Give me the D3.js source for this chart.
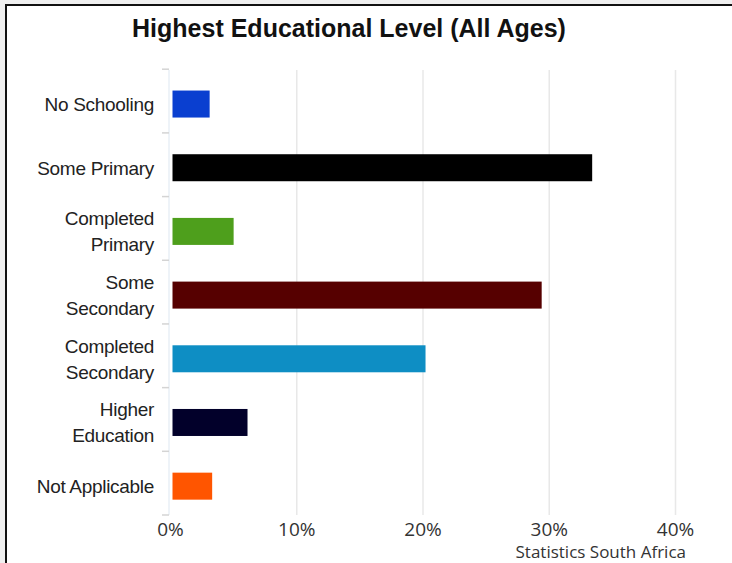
<!DOCTYPE html>
<html>
<head>
<meta charset="utf-8">
<script src="https://cdn.jsdelivr.net/npm/d3@7"></script>
<style>
    body { margin: 0; background: #efefef; }
    svg { display: block; }
</style>
</head>
<body>
<div id="chart"></div>
<script>

// data (percent of population)
let categories = ["No Schooling", "Some Primary", "Completed Primary", "Some Secondary",
    "Completed Secondary", "Higher Education", "Not Applicable"];
let labelLines = [["No Schooling"], ["Some Primary"], ["Completed", "Primary"], ["Some", "Secondary"],
    ["Completed", "Secondary"], ["Higher", "Education"], ["Not Applicable"]];
let values = [3.1, 33.4, 5.0, 29.4, 20.2, 6.1, 3.3];
let barColors = ["#0a3fd0", "#000000", "#4e9f1c", "#560000", "#0e8ec4", "#02002a", "#ff5500"];
let xTicks = [0, 10, 20, 30, 40];

let width = 732, height = 563;

let svg = d3.select("#chart").append("svg")
    .attr("width", width)
    .attr("height", height);

// white panel with dark border on top and left
svg.append("rect")
    .attr("x", 6).attr("y", 5)
    .attr("width", width).attr("height", height)
    .attr("fill", "#fff")
    .attr("stroke", "#111")
    .attr("stroke-width", 2);

// scales
let x = d3.scaleLinear()
    .domain([0, 40])
    .range([170.5, 675.5]);

let y = d3.scaleBand()
    .domain(categories)
    .range([72.2, 518])
    .paddingInner(0.576)
    .paddingOuter(0.288);

// gridlines
svg.append("g")
    .selectAll("line")
    .data(xTicks.slice(1))
    .enter()
    .append("line")
    .attr("x1", d => x(d)).attr("x2", d => x(d))
    .attr("y1", 70).attr("y2", 515)
    .attr("stroke", "#e8e8e8")
    .attr("stroke-width", 1.5);

// faint axis line
svg.append("line")
    .attr("x1", x(0) - 1.5).attr("x2", x(0) - 1.5)
    .attr("y1", 70).attr("y2", 515)
    .attr("stroke", "#e8eff6")
    .attr("stroke-width", 1.5);

// y tick marks at band boundaries
svg.append("g")
    .selectAll("line")
    .data(d3.range(categories.length + 1))
    .enter()
    .append("line")
    .attr("x1", 162).attr("x2", 169)
    .attr("y1", i => y.range()[0] + i * y.step() - 3)
    .attr("y2", i => y.range()[0] + i * y.step() - 3)
    .attr("stroke", "#d4d4d4")
    .attr("stroke-width", 1.5);

// bars
svg.append("g")
    .selectAll("rect")
    .data(categories)
    .enter()
    .append("rect")
    .attr("x", x(0) + 2)
    .attr("y", d => y(d))
    .attr("width", (d, i) => x(values[i]) - x(0) - 2)
    .attr("height", y.bandwidth())
    .attr("fill", (d, i) => barColors[i]);

// category labels
let labels = svg.append("g")
    .selectAll("text")
    .data(categories)
    .enter()
    .append("text")
    .attr("text-anchor", "end")
    .attr("font-family", "Liberation Sans, Arial, sans-serif")
    .attr("font-size", 19)
    .attr("letter-spacing", -0.3)
    .attr("fill", "#222")
    .attr("y", d => y(d) + y.bandwidth() / 2);

labels.each(function(d, i) {
    let lines = labelLines[i];
    let t = d3.select(this);
    lines.forEach((s, j) => {
        t.append("tspan")
            .attr("x", 154)
            .attr("dy", j === 0 ? (7 - (lines.length - 1) * 13) : 26)
            .text(s);
    });
});

// x tick labels
svg.append("g")
    .selectAll("text")
    .data(xTicks)
    .enter()
    .append("text")
    .attr("x", d => x(d))
    .attr("y", 536)
    .attr("text-anchor", "middle")
    .attr("font-family", "Open Sans, sans-serif")
    .attr("font-size", 19)
    .attr("fill", "#333")
    .text(d => d + "%");

// title
svg.append("text")
    .attr("x", 349)
    .attr("y", 37)
    .attr("text-anchor", "middle")
    .attr("font-family", "Liberation Sans, Arial, sans-serif")
    .attr("font-weight", "bold")
    .attr("font-size", 25)
    .attr("fill", "#111")
    .text("Highest Educational Level (All Ages)");

// source
svg.append("text")
    .attr("x", 686)
    .attr("y", 558)
    .attr("text-anchor", "end")
    .attr("font-family", "Open Sans, sans-serif")
    .attr("font-size", 17)
    .attr("fill", "#333")
    .text("Statistics South Africa");

</script>
</body>
</html>
